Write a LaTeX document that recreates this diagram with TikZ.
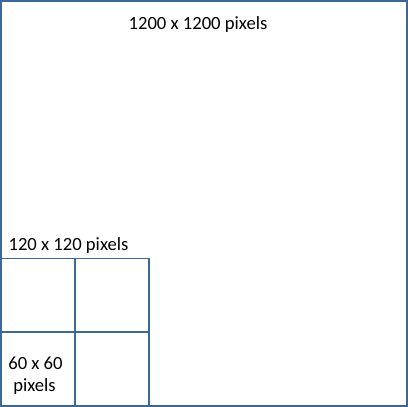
\documentclass[tikz,border=0pt]{standalone}
\usepackage{fontspec}
\setmainfont{Carlito}
\begin{document}
\begin{tikzpicture}[x=1bp,y=-1bp,
  box/.style={draw=boxblue,line width=1.2bp,inner sep=0pt,outer sep=0pt,anchor=north west},
  lbl/.style={font=\fontsize{18.7}{22}\selectfont,inner sep=0pt,anchor=base,align=center}]
\definecolor{boxblue}{RGB}{60,104,152}
\useasboundingbox (0,0) rectangle (408,407);
\node[box,minimum width=406bp,minimum height=405bp] (big) at (1,1) {};
\node[box,minimum width=74bp,minimum height=73.5bp] (c1) at (1,258.5) {};
\node[box,minimum width=74bp,minimum height=73.5bp] (c2) at (75,258.5) {};
\node[box,minimum width=74bp,minimum height=74bp] (c3) at (1,332) {};
\node[box,minimum width=74bp,minimum height=74bp] (c4) at (75,332) {};
\node[lbl] (t1) at (198,29) {1200 x 1200 pixels};
\node[lbl] (t2) at (68.5,250) {120 x 120 pixels};
\node[lbl] (t3) at (35.5,369) {60 x 60};
\node[lbl] (t4) at (34.5,391) {pixels};
\end{tikzpicture}
\end{document}
